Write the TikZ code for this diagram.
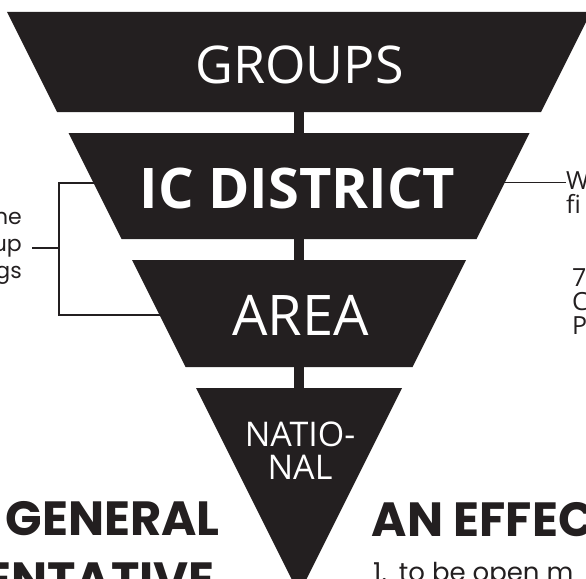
\documentclass[tikz,border=0pt]{standalone}
\usepackage{fontspec}
\setmainfont{Open Sans}
\newfontfamily\geofont{Poppins}
\definecolor{ink}{HTML}{231F20}

% the four bands of the funnel
\def\groupsband{(7,12) -- (591,12) -- (541,112) -- (57,112) -- cycle}
\def\districtband{(68.5,133) -- (529.5,133) -- (476.5,239) -- (121.5,239) -- cycle}
\def\areaband{(132,260) -- (466,260) -- (412.5,367) -- (185.5,367) -- cycle}
\def\nationalband{(196,388) -- (402,388) -- (299,594) -- cycle}
\colorlet{band fill}{ink}
\colorlet{band text}{white}
\tikzset{
  band/.style={fill=band fill},
  stem/.style={draw=band fill, line width=10pt},
  bracket/.style={draw=ink, line width=2pt},
  lead/.style={draw=ink, line width=1.6pt}
}
\tikzstyle{bandlabel}=[text=band text, inner sep=0pt]
\tikzstyle{sidenote}=[text=ink, inner sep=0pt]

\begin{document}
\begin{tikzpicture}[x=1pt,y=-1pt]
  \useasboundingbox (0,0) rectangle (586,578);

  % notes round the funnel
  \node[sidenote, font=\geofont\fontsize{22}{27}\selectfont, align=right, anchor=north east] (meetnote) at (22,208) {he\\up\\gs};
  \node[sidenote, font=\fontsize{25}{24}\selectfont, align=left, anchor=north west] (finote) at (566,171.7) {W\\fi};
  \node[sidenote, font=\fontsize{25}{24}\selectfont, align=left, anchor=north west] (sevennote) at (572,268) {7\\C\\P};

  \coordinate (district west) at (96,183);
  \coordinate (area west) at (162,315);
  \coordinate (spine) at (59,248);
  \coordinate (district east) at (502,182.3);

  \draw[bracket] (district west) -| (spine) |- (area west);
  \draw[bracket] (spine) -- ++(-27,0);
  \draw[lead] (district east) -- (district east -| finote.west);

  % stems between the bands
  \coordinate (groups foot) at (299,112);
  \coordinate (district head) at (299,133);
  \coordinate (district foot) at (299,239);
  \coordinate (area head) at (299,260);
  \coordinate (area foot) at (299,367);
  \coordinate (national head) at (299,388);
  \draw[stem] (groups foot) -- (district head);
  \draw[stem] (district foot) -- (area head);
  \draw[stem] (area foot) -- (national head);

  \fill[band] \groupsband;
  \fill[band] \districtband;
  \fill[band] \areaband;
  \fill[band] \nationalband;

  \node[bandlabel, font=\fontsize{52}{60}\selectfont, anchor=base] (groups) at (299.5,83.5) {GROUPS};
  \node[bandlabel, font=\fontsize{56}{60}\selectfont\bfseries, anchor=base] (district) at (297.5,208) {IC DISTRICT};
  \node[bandlabel, font=\fontsize{56}{60}\selectfont, anchor=base] (area) at (300.5,335) {AREA};
  \node[bandlabel, font=\fontsize{34}{33.3}\selectfont, align=center] (national) at (300,450.5) {NATIO-\\NAL};

  % headings below
  \node[sidenote, font=\geofont\bfseries\fontsize{48}{50}\selectfont, anchor=base east] (general) at (220,535) {GENERAL};
  \node[sidenote, font=\geofont\bfseries\fontsize{48}{50}\selectfont, anchor=base east] (sentative) at (215,596) {SENTATIVE};
  \node[sidenote, font=\geofont\bfseries\fontsize{48}{50}\selectfont, anchor=base west] (effec) at (371.7,536.7) {AN EFFEC};
  \node[sidenote, font=\geofont\fontsize{26}{27}\selectfont, anchor=base west] (point) at (373,581) {1.\hspace{12pt}to be open m};
\end{tikzpicture}
\end{document}
